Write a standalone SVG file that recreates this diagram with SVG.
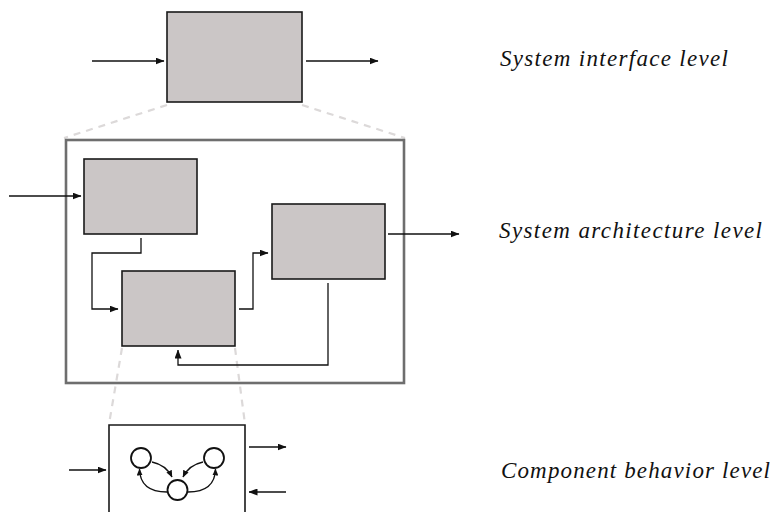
<svg xmlns="http://www.w3.org/2000/svg" width="774" height="512" viewBox="0 0 774 512">
<style>
.blk{fill:#cbc6c6;stroke:#1a1a1a;stroke-width:1.6}
.frame{fill:none;stroke:#6e6e6e;stroke-width:2.6}
.beh{fill:#fff;stroke:#1a1a1a;stroke-width:1.6}
.st{fill:#fff;stroke:#111;stroke-width:1.8}
.w{fill:none;stroke:#111;stroke-width:1.3}
.dash{fill:none;stroke:#dcd9d9;stroke-width:2.2;stroke-dasharray:7,6}
.lbl{font-family:"Liberation Serif",serif;font-style:italic;font-size:23px;fill:#111}
</style>
<defs>
<marker id="ah" markerWidth="9" markerHeight="7" refX="8.5" refY="3.5" orient="auto" markerUnits="userSpaceOnUse">
<path d="M0,0 L9,3.5 L0,7 Z" fill="#111"/>
</marker>
<marker id="ahs" markerWidth="7" markerHeight="6" refX="6.5" refY="3" orient="auto" markerUnits="userSpaceOnUse">
<path d="M0,0 L7,3 L0,6 Z" fill="#111"/>
</marker>
</defs>
<g id="zoom-guides">
<path class="dash" d="M167,105 L64,138"/>
<path class="dash" d="M302,105 L405,138"/>
<path class="dash" d="M122,348 L109,424"/>
<path class="dash" d="M235,348 L245,424"/>
</g>
<g id="interface-box"><rect class="blk" x="167" y="12" width="135" height="90"/></g>
<g id="architecture-frame"><rect class="frame" x="66" y="140" width="338" height="243"/></g>
<g id="block-a"><rect class="blk" x="84" y="159" width="113" height="75"/></g>
<g id="block-b"><rect class="blk" x="122" y="271" width="113" height="75"/></g>
<g id="block-c"><rect class="blk" x="272" y="204" width="113" height="75"/></g>
<g id="behavior-box">
<path class="beh" d="M109,512 V425 H245 V512"/>
<circle class="st" cx="141" cy="458" r="10"/>
<circle class="st" cx="214" cy="458" r="10"/>
<circle class="st" cx="177.5" cy="490" r="10"/>
</g>
<g id="connectors">
<path class="w" d="M92,61 H164" marker-end="url(#ah)"/>
<path class="w" d="M306,61 H378" marker-end="url(#ah)"/>
<path class="w" d="M9,196 H81" marker-end="url(#ah)"/>
<path class="w" d="M388,234 H459" marker-end="url(#ah)"/>
<path class="w" d="M141,238 V253 H92 V309 H118" marker-end="url(#ah)"/>
<path class="w" d="M239,309 H253 V253 H268" marker-end="url(#ah)"/>
<path class="w" d="M328,283 V365 H178 V350" marker-end="url(#ah)"/>
<path class="w" d="M69,470 H106" marker-end="url(#ah)"/>
<path class="w" d="M249,447 H286" marker-end="url(#ah)"/>
<path class="w" d="M286,492 H249" marker-end="url(#ah)"/>
<path class="w" d="M152,462 Q166,465 172,477" marker-end="url(#ahs)"/>
<path class="w" d="M203,462 Q189,465 183,477" marker-end="url(#ahs)"/>
<path class="w" d="M167,492 Q140,492 139.5,469" marker-end="url(#ahs)"/>
<path class="w" d="M188,492 Q215,492 215.5,469" marker-end="url(#ahs)"/>
</g>
<g id="labels">
<text class="lbl" x="500" y="66" textLength="228" lengthAdjust="spacing">System interface level</text>
<text class="lbl" x="499" y="238" textLength="263" lengthAdjust="spacing">System architecture level</text>
<text class="lbl" x="501" y="478" textLength="269" lengthAdjust="spacing">Component behavior level</text>
</g>
</svg>
